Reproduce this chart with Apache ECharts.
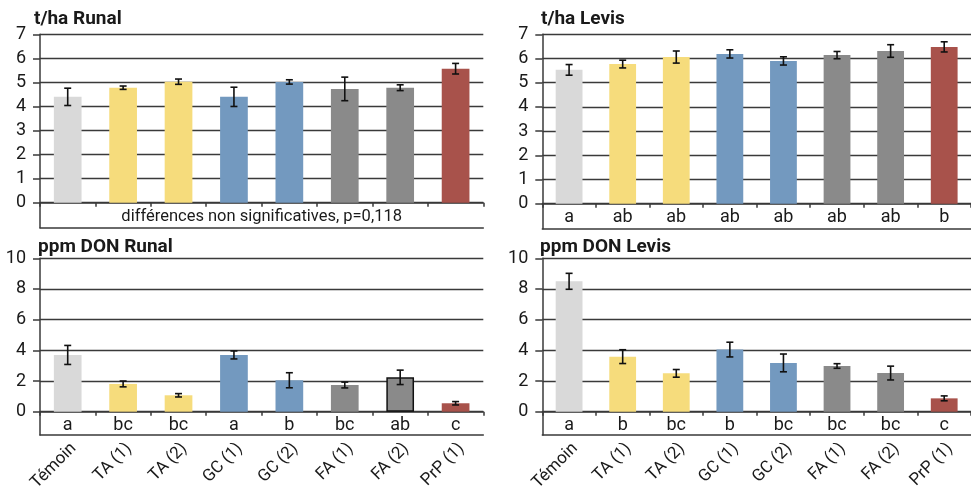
<!DOCTYPE html>
<html>
<head>
<meta charset="utf-8">
<script src="https://cdn.jsdelivr.net/npm/echarts@6/dist/echarts.min.js"></script>
<style>
html,body{margin:0;padding:0;background:#fff;}
#c{width:971px;height:494px;}
</style>
</head>
<body>
<div id="c"></div>
<script>
// ---- data ----
const categories = ['Témoin', 'TA (1)', 'TA (2)', 'GC (1)', 'GC (2)', 'FA (1)', 'FA (2)', 'PrP (1)'];
const barColors = ['#d9d9d9', '#f6dc7c', '#f6dc7c', '#7399bf', '#7399bf', '#8a8a8a', '#8a8a8a', '#a8524b'];

const titles = ['t/ha Runal', 't/ha Levis', 'ppm DON Runal', 'ppm DON Levis'];

const yieldRunal    = [4.40, 4.78, 5.03, 4.40, 5.02, 4.73, 4.78, 5.57];
const yieldRunalErr = [0.36, 0.07, 0.11, 0.40, 0.09, 0.49, 0.12, 0.22];
const yieldLevis    = [5.53, 5.77, 6.06, 6.19, 5.90, 6.14, 6.31, 6.48];
const yieldLevisErr = [0.22, 0.16, 0.25, 0.17, 0.17, 0.15, 0.26, 0.21];
const donRunal      = [3.70, 1.81, 1.07, 3.70, 2.05, 1.74, 2.24, 0.55];
const donRunalErr   = [0.62, 0.19, 0.11, 0.26, 0.49, 0.19, 0.47, 0.11];
const donLevis      = [8.50, 3.59, 2.50, 4.05, 3.18, 2.98, 2.52, 0.87];
const donLevisErr   = [0.52, 0.45, 0.25, 0.48, 0.58, 0.15, 0.45, 0.16];

const lettersYieldRunal = ['', '', '', '', '', '', '', ''];
const lettersYieldLevis = ['a', 'ab', 'ab', 'ab', 'ab', 'ab', 'ab', 'b'];
const lettersDonRunal   = ['a', 'bc', 'bc', 'a', 'b', 'bc', 'ab', 'c'];
const lettersDonLevis   = ['a', 'b', 'bc', 'b', 'bc', 'bc', 'bc', 'c'];

const noteYieldRunal = 'différences non significatives, p=0,118';

const yMaxYield = 7, yStepYield = 1;
const yMaxDon = 10, yStepDon = 2;

// ---- layout ----
const FONT = 'Roboto, "Noto Sans", sans-serif';
const TXT = '#1a1a1a';
const LINE = '#3a3a3a';

const panels = [
  {vals: yieldRunal, errs: yieldRunalErr, letters: lettersYieldRunal, note: noteYieldRunal, max: yMaxYield, step: yStepYield,
   left: 40, top: 34.3, width: 443.3, height: 168.4, rowH: 25, showCats: false, border: [],
   title: {left: 34, top: 10}},
  {vals: yieldLevis, errs: yieldLevisErr, letters: lettersYieldLevis, note: '', max: yMaxYield, step: yStepYield,
   left: 542.3, top: 34.3, width: 437, height: 169.4, rowH: 25, showCats: false, border: [],
   title: {left: 541, top: 10}},
  {vals: donRunal, errs: donRunalErr, letters: lettersDonRunal, note: '', max: yMaxDon, step: yStepDon,
   left: 40, top: 258.3, width: 443.3, height: 153.4, rowH: 30.6, showCats: true, border: [6],
   title: {left: 38, top: 238}},
  {vals: donLevis, errs: donLevisErr, letters: lettersDonLevis, note: '', max: yMaxDon, step: yStepDon,
   left: 542.3, top: 258.3, width: 437, height: 153.4, rowH: 30.6, showCats: true, border: [],
   title: {left: 540, top: 238}}
];

const grid = [], xAxis = [], yAxis = [], series = [], title = [];

panels.forEach((p, k) => {
  const gMain = grid.length;
  grid.push({left: p.left, top: p.top, width: p.width, height: p.height, containLabel: false});
  const gRow = grid.length;
  grid.push({left: p.left, top: p.top + p.height, width: p.width, height: p.rowH, containLabel: false});

  title.push({
    text: titles[k], left: p.title.left, top: p.title.top, padding: 0,
    textStyle: {fontFamily: FONT, fontWeight: 'bold', fontSize: 19, color: TXT}
  });

  const xMain = xAxis.length;
  xAxis.push({
    type: 'category', gridIndex: gMain, data: categories,
    axisLine: {show: true, lineStyle: {color: LINE, width: 1.5}},
    axisTick: {show: true, length: 4, alignWithLabel: false, interval: 0, lineStyle: {color: LINE, width: 1.5}},
    axisLabel: {show: true, interval: 0, margin: 5, fontFamily: FONT, fontSize: 18, color: TXT,
      formatter: (v, i) => p.letters[i]},
    name: p.note, nameLocation: 'middle', nameGap: 6,
    nameTextStyle: {fontFamily: FONT, fontSize: 16.5, color: TXT},
    splitLine: {show: false}
  });
  const yMain = yAxis.length;
  yAxis.push({
    type: 'value', gridIndex: gMain, min: 0, max: p.max, interval: p.step,
    axisLine: {show: true, lineStyle: {color: LINE, width: 1.5}},
    axisTick: {show: true, length: 7, inside: false, lineStyle: {color: LINE, width: 1.5}},
    axisLabel: {show: true, margin: 14, fontFamily: FONT, fontSize: 18, color: TXT},
    splitLine: {show: true, lineStyle: {color: LINE, width: 1.4}}
  });

  xAxis.push({
    type: 'category', gridIndex: gRow, data: categories, position: 'bottom',
    axisLine: {show: true, onZero: false, lineStyle: {color: LINE, width: 1.5}},
    axisTick: {show: false},
    axisLabel: {show: p.showCats, interval: 0, rotate: 45, margin: 5, verticalAlign: 'top',
      fontFamily: FONT, fontSize: 17, color: TXT},
    splitLine: {show: false}
  });
  yAxis.push({
    type: 'value', gridIndex: gRow, min: 0, max: 1,
    axisLine: {show: true, lineStyle: {color: LINE, width: 1.5}},
    axisTick: {show: false}, axisLabel: {show: false}, splitLine: {show: false}
  });

  series.push({
    type: 'bar', xAxisIndex: xMain, yAxisIndex: yMain, barWidth: '50%',
    data: p.vals.map((v, i) => ({
      value: v,
      itemStyle: p.border.indexOf(i) >= 0
        ? {color: barColors[i], borderColor: '#111', borderWidth: 1.5}
        : {color: barColors[i]}
    })),
    z: 3
  });
  series.push({
    type: 'custom', xAxisIndex: xMain, yAxisIndex: yMain, z: 5,
    data: p.vals.map((v, i) => [i, v, p.errs[i]]),
    renderItem: function (params, api) {
      const x = api.value(0), v = api.value(1), e = api.value(2);
      const t = api.coord([x, v + e]);
      const b = api.coord([x, v - e]);
      const hw = 3.5;
      const st = {stroke: '#111', lineWidth: 1.6};
      return {
        type: 'group',
        children: [
          {type: 'line', shape: {x1: t[0], y1: t[1], x2: b[0], y2: b[1]}, style: st},
          {type: 'line', shape: {x1: t[0] - hw, y1: t[1], x2: t[0] + hw, y2: t[1]}, style: st},
          {type: 'line', shape: {x1: b[0] - hw, y1: b[1], x2: b[0] + hw, y2: b[1]}, style: st}
        ]
      };
    }
  });
});

const chart = echarts.init(document.getElementById('c'), null, {renderer: 'canvas'});
chart.setOption({
  animation: false,
  backgroundColor: '#ffffff',
  title: title,
  grid: grid,
  xAxis: xAxis,
  yAxis: yAxis,
  series: series
});
</script>
</body>
</html>
